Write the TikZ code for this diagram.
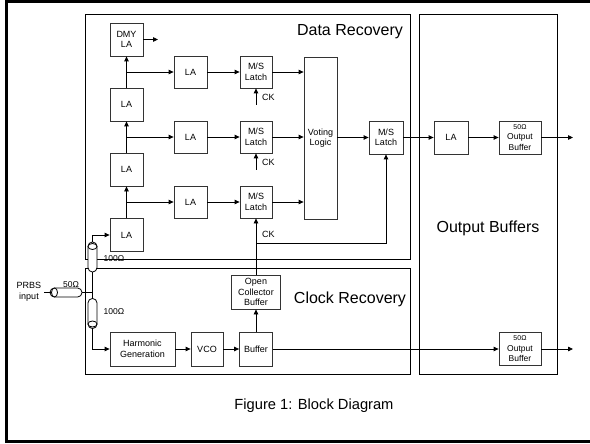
\documentclass[tikz,border=0pt]{standalone}
\usepackage{fontspec}
\setmainfont{Liberation Sans}
\usetikzlibrary{arrows.meta,shapes.geometric}
\begin{document}
\begin{tikzpicture}[x=1pt,y=-1pt,
  blk/.style={draw=black!80, line width=0.8pt, inner sep=0pt, align=center,
    font=\fontsize{9}{10.5}\selectfont, minimum width=33pt, minimum height=33pt},
  region/.style={draw=black, line width=1pt},
  wire/.style={line width=0.8pt},
  arr/.style={wire, -{Triangle[length=5pt,width=4.5pt]}},
  title/.style={font=\fontsize{16}{18}\selectfont, inner sep=0pt},
  lbl/.style={font=\fontsize{9}{10.5}\selectfont, inner sep=0pt},
  coax/.style={draw, line width=0.8pt, fill=white, rounded corners=4.4pt, inner sep=0pt},
  cend/.style={draw, line width=0.8pt, ellipse, inner sep=0pt, fill=white}
]
\useasboundingbox (0,0) rectangle (590,444);

% page frame
\draw[line width=3pt] (596,1.3) -- (6,1.3) -- (6,441) -- (596,441);

% functional regions
\draw[region] (85,15) rectangle (410.5,259);
\draw[region] (85,268) rectangle (410.5,374);
\draw[region] (419,15) rectangle (557,374);
\node[title] at (350,32) {Data Recovery};
\node[title] at (350,299) {Clock Recovery};
\node[title] at (488,228) {Output Buffers};
\node[font=\fontsize{14.7}{16}\selectfont] at (314,406) {Figure 1: Block Diagram};

% limiting amplifier chain
\node[blk] (la1) at (126.5,235) {LA};
\node[blk] (la2) at (126.5,169.5) {LA};
\node[blk] (la3) at (126.5,104.5) {LA};
\node[blk] (dmy) at (126.5,39.5) {DMY\\LA};
\coordinate (dmyout) at (158,39.5);

% three sampling rows
\node[blk, minimum height=32pt] (r1) at (190.5,202) {LA};
\node[blk, minimum height=32pt] (r2) at (190.5,137) {LA};
\node[blk, minimum height=32pt] (r3) at (190.5,72) {LA};
\node[blk, minimum width=32pt, minimum height=32pt] (m1) at (256,202) {M/S\\Latch};
\node[blk, minimum width=32pt, minimum height=32pt] (m2) at (256,137) {M/S\\Latch};
\node[blk, minimum width=32pt, minimum height=32pt] (m3) at (256,72) {M/S\\Latch};
\node[blk, minimum height=162pt] (vote) at (320.5,138) {Voting\\Logic};
\node[blk, minimum width=34pt] (mf) at (386,137.5) {M/S\\Latch};

% output stage
\node[blk, minimum width=34pt] (ola) at (451,137.5) {LA};
\node[blk, minimum width=42pt, font=\fontsize{8.5}{10.5}\selectfont] (ob1) at (520,137.5)
  {{\fontsize{7}{8}\selectfont 50Ω}\\Output\\Buffer};
\node[blk, minimum width=42pt, font=\fontsize{8.5}{10.5}\selectfont] (ob2) at (520,349)
  {{\fontsize{7}{8}\selectfont 50Ω}\\Output\\Buffer};
\coordinate (out1) at (573,137.5);
\coordinate (out2) at (573,349);

% clock recovery
\node[blk, minimum width=65pt, minimum height=34pt] (hg) at (142.5,349) {Harmonic\\Generation};
\node[blk, minimum width=32pt, minimum height=34pt] (vco) at (207,349) {VCO};
\node[blk, minimum width=33pt, minimum height=34pt] (buf) at (256,349) {Buffer};
\node[blk, minimum width=49pt, minimum height=34pt] (ocb) at (256,292) {Open\\Collector\\Buffer};

% clock inputs
\coordinate (ck3) at (256,105);
\coordinate (ck2) at (256,170);
\coordinate (ckj) at (256,243);
\node[lbl] at (268.5,97) {CK};
\node[lbl] at (268.5,162) {CK};
\node[lbl] at (268.5,234.5) {CK};

% input transmission lines
\node[lbl, align=center] (prbs) at (29,292) {PRBS\\input};
\node[coax, minimum width=32pt, minimum height=9pt] (tin) at (66,292.5) {};
\node[cend, minimum width=6pt, minimum height=9pt] (tine) at (54.5,292.5) {};
\node[coax, minimum width=9pt, minimum height=30pt] (tup) at (92.5,257) {};
\node[cend, minimum width=9pt, minimum height=6pt] (tupe) at (92.5,246.5) {};
\node[coax, minimum width=9pt, minimum height=30pt] (tdn) at (92.5,313.5) {};
\node[cend, minimum width=9pt, minimum height=6pt] (tdne) at (92.5,324) {};
\coordinate (jn) at (92.5,292.5);
\node[lbl, font=\fontsize{8.5}{10}\selectfont] at (71,284.5) {50Ω};
\node[lbl, font=\fontsize{8.5}{10}\selectfont] at (114,258.5) {100Ω};
\node[lbl, font=\fontsize{8.5}{10}\selectfont] at (114,311.5) {100Ω};

% connectors
\draw[wire] ([xshift=3pt]prbs.east |- tine.west) -- (tine.west);
\draw[wire] (tin.east) -- (jn);
\draw[wire] (tup.south) -- (tdn.north);
\draw[arr] (tup.north) |- (la1.west);
\draw[arr] (tdn.south) |- (hg.west);

\draw[arr] (la1) -- (la2);
\draw[arr] (la2) -- (la3);
\draw[arr] (la3) -- (dmy);
\draw[arr] (dmy) -- (dmyout);
\draw[arr] (la1.north |- r1.west) -- (r1.west);
\draw[arr] (la2.north |- r2.west) -- (r2.west);
\draw[arr] (la3.north |- r3.west) -- (r3.west);
\foreach \i in {1,2,3} {
  \draw[arr] (r\i) -- (m\i);
  \draw[arr] (m\i) -- (m\i -| vote.west);
}
\draw[arr] (ck3) -- (m3.south);
\draw[arr] (ck2) -- (m2.south);
\draw[arr] (ocb) -- (m1);
\draw[arr] (ckj) -| (mf.south);
\draw[arr] (vote.east |- mf.west) -- (mf.west);
\draw[arr] (mf) -- (ola);
\draw[arr] (ola) -- (ob1);
\draw[arr] (ob1) -- (out1);

\draw[arr] (hg) -- (vco);
\draw[arr] (vco) -- (buf);
\draw[arr] (buf) -- (ocb);
\draw[arr] (buf) -- (ob2);
\draw[arr] (ob2) -- (out2);
\end{tikzpicture}
\end{document}
